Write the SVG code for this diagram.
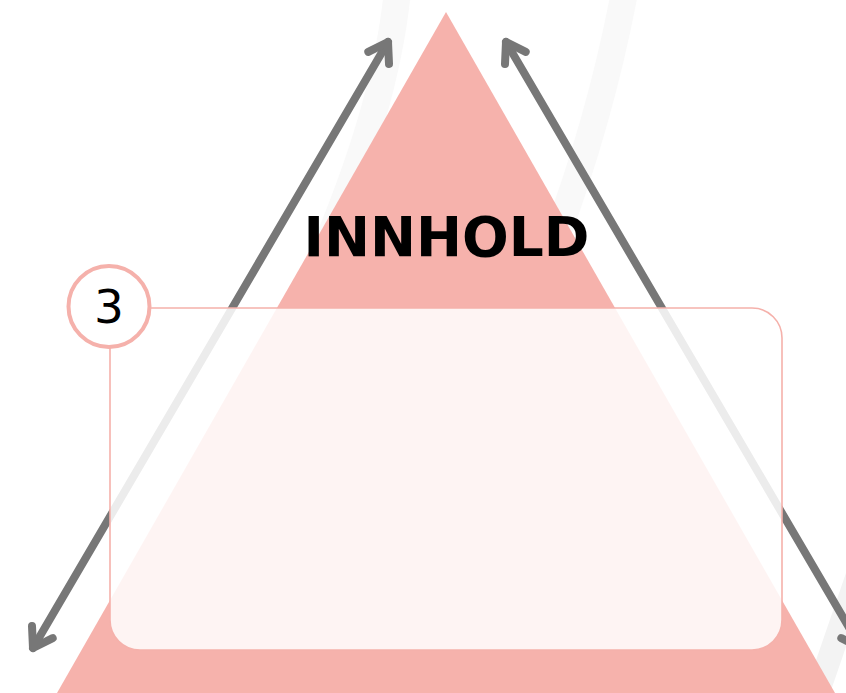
<svg xmlns="http://www.w3.org/2000/svg" width="846" height="693" viewBox="0 0 846 693">
  <style>
    .band { fill: none; stroke-linecap: butt; }
    .arrow { fill: none; stroke: #777777; stroke-width: 8; stroke-linecap: round; stroke-linejoin: round; }
    .pink { fill: #f6b2ac; }
    .box { fill: #ffffff; fill-opacity: 0.86; stroke: #f5b1ab; stroke-width: 1.6; }
    .badge { fill: #ffffff; stroke: #f5b1ab; stroke-width: 4; }
    .title { font-family: "DejaVu Sans", "Liberation Sans", sans-serif; font-weight: bold; font-size: 55px; fill: #000000; }
    .num { font-family: "DejaVu Sans", "Liberation Sans", sans-serif; font-size: 47px; fill: #000000; }
  </style>
  <rect width="846" height="693" fill="#ffffff"/>
  <g id="decoration">
    <path class="band" d="M 397 -5 Q 385 110 320 260" stroke="#f9f9f9" stroke-width="27"/>
    <path class="band" d="M 624 -5 Q 600 120 555 240" stroke="#f9f9f9" stroke-width="27"/>
    <path class="band" d="M 870 540 L 815 700" stroke="#f3f3f3" stroke-width="24"/>
  </g>
  <g id="triangle">
    <polygon class="pink" points="446,12 835,693 57,693"/>
  </g>
  <g id="connectors">
    <g id="arrow-left">
      <path class="arrow" d="M 388 42 L 33 648"/>
      <path class="arrow" d="M 368.3 51.9 L 388 42 L 389 64"/>
      <path class="arrow" d="M 52.7 638.1 L 33 648 L 32 626"/>
    </g>
    <g id="arrow-right" transform="translate(894,0) scale(-1,1)">
      <path class="arrow" d="M 388 42 L 33 648"/>
      <path class="arrow" d="M 368.3 51.9 L 388 42 L 389 64"/>
      <path class="arrow" d="M 52.7 638.1 L 33 648 L 32 626"/>
    </g>
  </g>
  <g id="title">
    <text class="title" x="446.5" y="256" text-anchor="middle">INNHOLD</text>
  </g>
  <g id="content-box">
    <rect class="box" x="110" y="308" width="672" height="342" rx="30" ry="30"/>
  </g>
  <g id="badge">
    <circle class="badge" cx="109" cy="306.5" r="40.5"/>
    <text class="num" x="109" y="323" text-anchor="middle">3</text>
  </g>
</svg>
